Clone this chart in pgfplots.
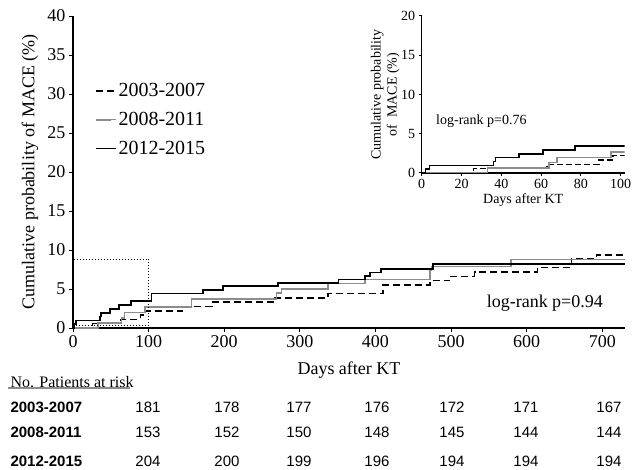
\documentclass[border=0pt]{standalone}
\usepackage{fontspec}
\setmainfont{Liberation Serif}
\setsansfont{Liberation Sans}
\usepackage{pgfplots}
\usepackage{pgfplotstable}
\pgfplotsset{compat=1.18}

% cumulative MACE (%), step at each day
\pgfplotstableread{
d p
0 0
26 0.55
63 1.10
89 1.66
96 2.21
145 2.76
184 3.31
265 3.87
337 4.42
410 5.52
472 6.08
498 6.63
531 7.18
614 7.73
659 8.84
692 9.39
730 9.39
}\tabA
\pgfplotstableread{
d p
0 0
33 0.65
64 1.31
68 1.96
95 2.70
157 3.75
269 4.50
276 5.00
337 5.70
386 6.20
472 7.40
474 7.90
579 8.80
730 8.80
}\tabB
\pgfplotstableread{
d p
0 0
2 0.49
4 0.98
36 1.47
37 1.96
49 2.45
61 2.94
77 3.43
104 4.41
172 4.90
198 5.39
271 5.80
351 6.20
386 6.67
393 7.10
407 7.56
476 8.20
730 8.20
}\tabC

\definecolor{midgray}{gray}{0.55}
\newcommand{\fbig}{\fontsize{18bp}{21bp}\selectfont}
\newcommand{\fleg}{\fontsize{20bp}{22bp}\selectfont}
\newcommand{\fsmall}{\fontsize{14bp}{16bp}\selectfont}
\newcommand{\frisk}{\fontsize{15bp}{17bp}\selectfont\sffamily}

\pgfplotsset{
  km/.style={
    axis lines=left,
    axis line style={-, line width=1.2bp},
    tick align=outside,
    major tick length=4bp,
    every tick/.style={line width=1bp, black},
    /pgf/number format/assume math mode=true,
    scale only axis,
  },
  s1/.style={const plot, black, line width=1.5bp, dash pattern=on 7bp off 4bp},
  s2/.style={const plot, midgray, line width=1.5bp},
  s3/.style={const plot, black, line width=1.6bp},
}

\begin{document}
\begin{tikzpicture}
\useasboundingbox (-73bp,-142bp) rectangle (561bp,328bp);

\begin{axis}[km,
  clip=false,
  at={(0,0)}, anchor=south west,
  width=552bp, height=312bp,
  xmin=0, xmax=730, ymin=0, ymax=40,
  xtick={0,100,...,700}, ytick={0,5,...,40},
  tick label style={font=\fbig},
  xlabel={Days after KT},
  ylabel={Cumulative probability of MACE (\%)},
  label style={font=\fbig},
  xlabel style={at={(axis description cs:0.5,-0.135)}, anchor=center},
  ylabel style={at={(axis description cs:-0.078,0.5)}, anchor=center},
  legend style={at={(0.034,0.797)}, anchor=north west, draw=none, fill=none,
    font=\fleg, row sep=10bp},
  legend cell align=left,
  legend image code/.code={\draw[#1, line width=1.6bp] (0bp,0bp) -- (15bp,0bp);
    \path (0bp,0bp) -- (20bp,0bp);},
]
\addplot[s1] table {\tabA};
\addplot[s2] table {\tabB};
\addplot[s3] table {\tabC};
\legend{2003-2007, 2008-2011, 2012-2015}
\draw[dotted, line width=1bp] (axis cs:1,0.35) rectangle (axis cs:100,8.8);
\node[font=\fbig] at (axis cs:624,3.2) {log-rank p=0.94};
\end{axis}

\begin{axis}[km,
  clip=true,
  at={(348.7bp,155bp)}, anchor=south west,
  width=203bp, height=157bp,
  xmin=0, xmax=102, ymin=0, ymax=20,
  xtick={0,20,...,100}, ytick={0,5,...,20},
  major tick length=3bp,
  tick label style={font=\fsmall},
  xlabel={Days after KT},
  ylabel={Cumulative probability\\of \ MACE (\%)},
  label style={font=\fsmall},
  xlabel style={at={(axis description cs:0.5,-0.17)}, anchor=center},
  ylabel style={at={(axis description cs:-0.18,0.5)}, anchor=center, align=center},
]
\addplot[s1, dash pattern=on 6bp off 3bp] table {\tabA};
\addplot[s2] table {\tabB};
\addplot[s3] table {\tabC};
\node[font=\fsmall] at (axis cs:30,6.6) {log-rank p=0.76};
\end{axis}

% number at risk
\node[anchor=west, font=\fontsize{16bp}{18bp}\selectfont] at (-66bp,-54bp) {No. Patients at risk};
\draw[midgray, line width=1.5bp] (-65bp,-60bp) -- (57bp,-60bp);
\node[anchor=west, font=\frisk\bfseries] at (-66bp,-79bp) {2003-2007};
\node[anchor=west, font=\frisk\bfseries] at (-66bp,-104bp) {2008-2011};
\node[anchor=west, font=\frisk\bfseries] at (-66bp,-133bp) {2012-2015};
\foreach \x/\a/\b/\c in {75/181/153/204, 154/178/152/200, 226/177/150/199,
    304/176/148/196, 379/172/145/194, 453/171/144/194, 536/167/144/194} {
  \node[font=\frisk] at (\x bp,-79bp) {\a};
  \node[font=\frisk] at (\x bp,-104bp) {\b};
  \node[font=\frisk] at (\x bp,-133bp) {\c};
}
\end{tikzpicture}
\end{document}
